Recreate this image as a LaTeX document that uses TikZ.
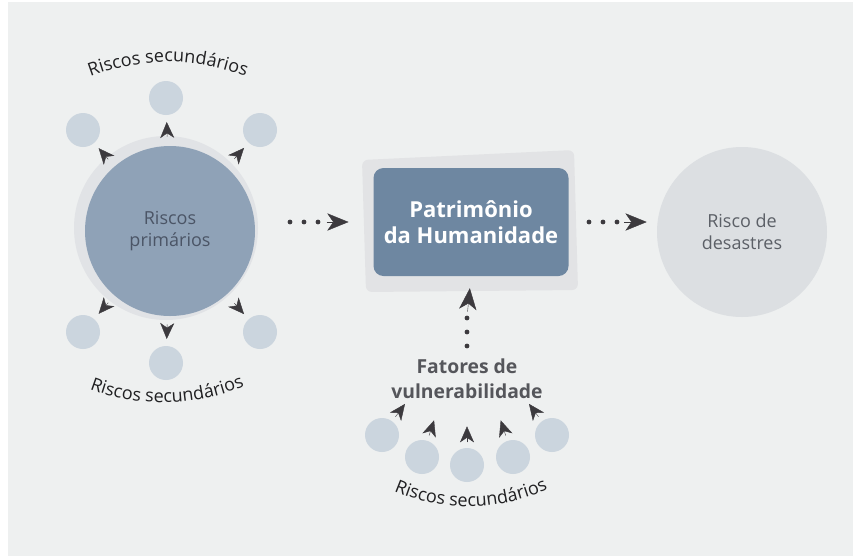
\documentclass[tikz,border=0pt]{standalone}
\usepackage{fontspec}
\setmainfont{Open Sans}
\usetikzlibrary{arrows.meta,calc,decorations.text}
\definecolor{panel}{HTML}{EEF0F0}
\definecolor{ringc}{HTML}{E1E3E6}
\definecolor{primc}{HTML}{8FA2B7}
\definecolor{primtxt}{HTML}{4B5566}
\definecolor{smallc}{HTML}{CBD5DE}
\definecolor{boxouter}{HTML}{E2E3E5}
\definecolor{boxfill}{HTML}{6E87A1}
\definecolor{desc}{HTML}{DCDFE2}
\definecolor{destxt}{HTML}{5C6067}
\definecolor{arrc}{HTML}{3C3A3E}
\definecolor{fattxt}{HTML}{55565B}
\definecolor{sectxt}{HTML}{202022}
\tikzset{
  smallcirc/.style={circle, fill=smallc, inner sep=0pt, minimum size=25.5pt},
  arr/.style={draw=arrc, line width=0.3pt, -{Stealth[length=12pt, width=10.5pt, inset=3.5pt, fill=arrc]}},
  bigarr/.style={draw=arrc, line width=0.3pt, -{Stealth[length=16pt, width=13pt, inset=4.5pt, fill=arrc]}},
  dotline/.style={draw=arrc, line width=3.6pt, line cap=round, dash pattern=on 0pt off 10.5pt},
  sectext/.style={decorate, decoration={text along path, text align=center, text color=sectxt,
      text={|\fontsize{13.5}{16}\selectfont|Riscos secundários}}}
}
\begin{document}
\begin{tikzpicture}[x=0.75pt, y=-0.75pt]
\useasboundingbox (0,0) rectangle (853,558);
\fill[white] (0,0) rectangle (853,558);
\fill[panel] (8,2) rectangle (853,556);

% primary cluster
\node[circle, fill=ringc, inner sep=0pt, minimum size=138pt] (ring) at (166,228) {};
\node[circle, fill=primc, inner sep=0pt, minimum size=127.5pt, text=primtxt, align=center,
      font=\fontsize{13.5}{17}\selectfont] (prim) at (170,231) {Riscos\\primários};

\node[smallcirc] (s1) at (166,98) {};
\node[smallcirc] (s2) at (83,130) {};
\node[smallcirc] (s3) at (260,130) {};
\node[smallcirc] (s4) at (83,332) {};
\node[smallcirc] (s5) at (260,332) {};
\node[smallcirc] (s6) at (166,363) {};

\foreach \s in {s1,s2,s3,s4,s5,s6}{
  \draw[arr] ($(\s)!29pt!(prim.center)$) -- ($(\s)!18pt!(prim.center)$);
}

\path[sectext] (82,80) .. controls (140,56) and (195,56) .. (254,80);
\path[sectext] (80,385) .. controls (135,409) and (195,409) .. (254,382);

% central box
\fill[boxouter, rounded corners=4.5pt] (362,160) -- (574,150) -- (578,290) -- (366,292) -- cycle;
\node[rounded corners=7.5pt, fill=boxfill, minimum width=146.25pt, minimum height=81pt,
      text=white, align=center, font=\bfseries\fontsize{16.5}{19.5}\selectfont] (box) at (471,222)
      {Patrimônio\\da Humanidade};

% disaster circle
\node[circle, fill=desc, inner sep=0pt, minimum size=127.5pt, text=destxt, align=center,
      font=\fontsize{13.5}{16.5}\selectfont] (des) at (742,232) {Risco de\\desastres};

% horizontal dotted arrows
\coordinate (h1a) at (290,222);
\coordinate (h1b) at (318.5,222);
\draw[dotline] (h1a) -- (h1b);
\draw[bigarr, shorten <=6pt, shorten >=18.5pt] (h1b) -- (box.west);

\coordinate (h2a) at (589,222);
\coordinate (h2b) at (617.5,222);
\draw[dotline] (h2a) -- (h2b);
\draw[bigarr, shorten <=5pt, shorten >=7.5pt] (h2b) -- (h2b -| des.west);

% vulnerability
\node[text=fattxt, align=center, font=\bfseries\fontsize{14.5}{18.75}\selectfont] (fat) at (467,379)
  {Fatores de\\vulnerabilidade};
\coordinate (v1) at (467,346);
\coordinate (v2) at (467,317.5);
\draw[dotline] (v1) -- (v2);
\draw[bigarr, shorten <=4.5pt, shorten >=9pt] (v2) -- (box.south);

\node[smallcirc] (b1) at (382,435) {};
\node[smallcirc] (b2) at (422,457) {};
\node[smallcirc] (b3) at (467,465) {};
\node[smallcirc] (b4) at (513,457) {};
\node[smallcirc] (b5) at (552,435) {};
\coordinate (foc) at (467,320);
\foreach \s in {b1,b2,b3,b4,b5}{
  \draw[arr] ($(\s)!17pt!(foc)$) -- ($(\s)!29pt!(foc)$);
}

\path[sectext] (383,486) .. controls (440,514) and (500,514) .. (559,484);
\end{tikzpicture}
\end{document}
